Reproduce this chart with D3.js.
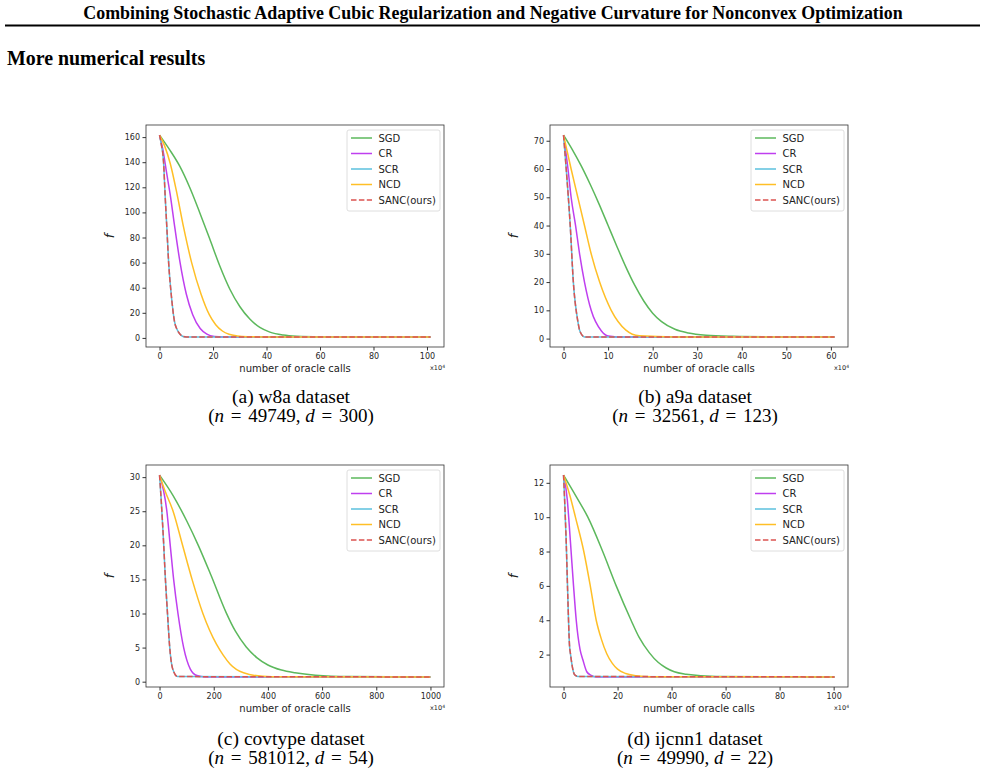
<!DOCTYPE html>
<html lang="en">
<head>
<meta charset="UTF-8"/>
<title>More numerical results</title>
<script src="https://d3js.org/d3.v7.min.js"></script>
<style>
	body { margin: 0; background: #fff; }
	svg { display: block; }
	.tick text { font-family: "DejaVu Sans", sans-serif; font-size: 8px; fill: #262626; }
	.tick line { stroke: #333; }
	.serif { font-family: "Liberation Serif", "Times New Roman", serif; fill: #000; }
	.sans { font-family: "DejaVu Sans", sans-serif; fill: #222; }
</style>
</head>
<body>
<script>
	var w = 985;	// width of the page
	var h = 774;	// height of the page

	var seriesNames  = ["SGD", "CR", "SCR", "NCD", "SANC(ours)"];
	var seriesColors = ["#5cb85c", "#bf3fef", "#5bc0de", "#ffbf26", "#db5350"];

	// (a) w8a dataset, x in units of 10^4 oracle calls
	var w8aSGD  = [[0,161.6],[3.75,150],[7.5,137],[11.25,120],[15,100],[18.75,79],[22.5,57.5],[26.25,39],[30,25],[33.75,15],[37.5,8.3],[41.25,4.6],[46.25,2.3],[51.25,1.4],[60,0.95],[75,0.82],[101.3,0.8]];
	var w8aCR   = [[0,161.6],[1.25,150],[2.6,132],[4,114],[5.7,88],[7.6,61],[10,35],[12.4,18.5],[15.2,7.5],[17.7,3],[20.5,1.2],[24,0.8],[101.3,0.8]];
	var w8aNCD  = [[0,161.6],[1.9,153],[4,139],[6.6,114],[9,88],[12,60],[15.5,35],[18.6,18.5],[21,10.5],[23.5,5.5],[26,2.9],[29,1.6],[33,1.0],[40,0.82],[101.3,0.8]];
	var w8aSANC = [[0,161.6],[0.6,155],[1.5,140],[2.1,113],[2.75,87],[3.4,60],[4.4,34],[5.6,13],[6.6,6.5],[7.6,3.2],[8.75,1.2],[10,0.8],[101.3,0.8]];

	// (b) a9a dataset
	var a9aSGD  = [[0,72],[2,66.8],[4,61],[6,54.5],[8,47.5],[10,40],[12,32.5],[14,25.3],[16,18.8],[18,13.3],[20,9],[22,6],[25,3.3],[28,2],[32,1.2],[38,0.8],[45,0.65],[60.8,0.6]];
	var a9aCR   = [[0,72],[1,60],[1.7,50],[2.7,40],[3.6,30],[4.7,20],[6.2,10],[8.5,2.7],[10,0.9],[12,0.6],[60.8,0.6]];
	var a9aNCD  = [[0,72],[1.7,60],[3.2,50],[4.7,40],[6.2,30],[8.1,20],[10.7,10],[14,3],[17,1],[25,0.6],[60.8,0.6]];
	var a9aSANC = [[0,72],[0.6,60],[1.5,40],[2.2,20],[3.2,6.2],[3.7,2.5],[4.7,0.6],[60.8,0.6]];

	// (c) covtype dataset
	var covSGD  = [[0,30.3],[50,27.3],[100,23.6],[143,20],[190,15.6],[245,10.2],[280,7.4],[320,5.1],[360,3.5],[400,2.45],[450,1.7],[500,1.3],[575,0.95],[700,0.75],[1000,0.7]];
	var covCR   = [[0,30.3],[27,25],[39.5,20],[52,15],[68,10],[89,5],[113.6,1.85],[138,0.9],[169,0.7],[1000,0.7]];
	var covNCD  = [[0,30.3],[20,28],[50,25],[85,20],[120,15],[160,10],[210,5.5],[235,3.9],[260,2.6],[310,1.3],[380,0.8],[450,0.72],[1000,0.7]];
	var covSANC = [[0,30.3],[6,26.7],[15,20.4],[21,15.5],[30,9.6],[37,5.3],[48,1.95],[66.5,0.75],[1000,0.7]];

	// (d) ijcnn1 dataset
	var ijcSGD  = [[0,12.45],[4.7,11.2],[9,10],[14.5,8],[19.5,6],[25,4],[28,3],[31.8,2.1],[35,1.55],[38,1.22],[41,1.0],[45.4,0.86],[56.5,0.73],[100.3,0.7]];
	var ijcCR   = [[0,12.45],[1.4,11],[1.9,10],[2.8,8],[3.7,6],[4.7,4],[6.1,2.3],[7.15,1.7],[8.6,1.0],[10.2,0.79],[12,0.7],[100.3,0.7]];
	var ijcNCD  = [[0,12.45],[2.8,11],[4.4,10],[7.5,8],[9.9,6],[12.1,4],[14,2.9],[16,2.05],[18,1.5],[20,1.15],[23,0.9],[27,0.77],[32,0.71],[100.3,0.7]];
	var ijcSANC = [[0,12.45],[0.4,11],[1,8.5],[1.6,5.25],[2.2,2.55],[2.6,2],[4.1,0.83],[5.3,0.73],[100.3,0.7]];

	// tick values
	var w8aXTicks = [0,20,40,60,80,100],      w8aYTicks = [0,20,40,60,80,100,120,140,160];
	var a9aXTicks = [0,10,20,30,40,50,60],    a9aYTicks = [0,10,20,30,40,50,60,70];
	var covXTicks = [0,200,400,600,800,1000], covYTicks = [0,5,10,15,20,25,30];
	var ijcXTicks = [0,20,40,60,80,100],      ijcYTicks = [2,4,6,8,10,12];

	var captions = ["(a) w8a dataset", "(b) a9a dataset", "(c) covtype dataset", "(d) ijcnn1 dataset"];
	var sizes = [["49749","300"], ["32561","123"], ["581012","54"], ["49990","22"]];

	// panel layout: plot frame for each chart
	var panels = [
		{ left: 146, top: 125, series: [w8aSGD, w8aCR, w8aSANC, w8aNCD, w8aSANC], xt: w8aXTicks, yt: w8aYTicks, cx: 291, cy: 398 },
		{ left: 550, top: 125, series: [a9aSGD, a9aCR, a9aSANC, a9aNCD, a9aSANC], xt: a9aXTicks, yt: a9aYTicks, cx: 695, cy: 398 },
		{ left: 146, top: 465, series: [covSGD, covCR, covSANC, covNCD, covSANC], xt: covXTicks, yt: covYTicks, cx: 291, cy: 740 },
		{ left: 550, top: 465, series: [ijcSGD, ijcCR, ijcSANC, ijcNCD, ijcSANC], xt: ijcXTicks, yt: ijcYTicks, cx: 695, cy: 740 }
	];
	var pw = 298;	// plot frame width
	var ph = 222;	// plot frame height

	var svg = d3.select("body")
				.append("svg")
				.attr("width", w)
				.attr("height", h);

	svg.append("rect").attr("width", w).attr("height", h).attr("fill", "#fff");

	// page header
	svg.append("text")
		.attr("class", "serif")
		.attr("x", 493)
		.attr("y", 19)
		.attr("text-anchor", "middle")
		.attr("font-weight", "bold")
		.attr("font-size", "17.9px")
		.text("Combining Stochastic Adaptive Cubic Regularization and Negative Curvature for Nonconvex Optimization");

	svg.append("line")
		.attr("x1", 5).attr("x2", 980)
		.attr("y1", 25.5).attr("y2", 25.5)
		.attr("stroke", "#000")
		.attr("stroke-width", 2);

	svg.append("text")
		.attr("class", "serif")
		.attr("x", 7)
		.attr("y", 65)
		.attr("font-weight", "bold")
		.attr("font-size", "19.9px")
		.text("More numerical results");

	// extent with matplotlib style 5% margins
	function padded(vals) {
		var lo = d3.min(vals), hi = d3.max(vals);
		var m = (hi - lo) * 0.05;
		return [lo - m, hi + m];
	}

	panels.forEach(function(p, k) {
		var all = d3.merge(p.series);
		var xScale = d3.scaleLinear()
					.domain(padded(all.map(function(d) { return d[0]; })))
					.range([p.left, p.left + pw]);
		var yScale = d3.scaleLinear()
					.domain(padded(all.map(function(d) { return d[1]; })))
					.range([p.top + ph, p.top]);

		var g = svg.append("g");

		var line = d3.line()
					.x(function(d) { return xScale(d[0]); })
					.y(function(d) { return yScale(d[1]); })
					.curve(d3.curveMonotoneX);

		p.series.forEach(function(s, i) {
			g.append("path")
				.datum(s)
				.attr("d", line)
				.attr("fill", "none")
				.attr("stroke", seriesColors[i])
				.attr("stroke-width", 1.5)
				.attr("stroke-dasharray", i === 4 ? "5.5,2.4" : null);
		});

		// axes
		var xAxis = d3.axisBottom(xScale).tickValues(p.xt).tickFormat(d3.format("d"))
					.tickSize(3.5).tickPadding(2.5).tickSizeOuter(0);
		var yAxis = d3.axisLeft(yScale).tickValues(p.yt).tickFormat(d3.format("d"))
					.tickSize(3.5).tickPadding(2.5).tickSizeOuter(0);

		g.append("g")
			.attr("transform", "translate(0," + (p.top + ph) + ")")
			.call(xAxis)
			.call(function(a) { a.select(".domain").remove(); });
		g.append("g")
			.attr("transform", "translate(" + p.left + ",0)")
			.call(yAxis)
			.call(function(a) { a.select(".domain").remove(); });

		// frame
		g.append("rect")
			.attr("x", p.left).attr("y", p.top)
			.attr("width", pw).attr("height", ph)
			.attr("fill", "none")
			.attr("stroke", "#333")
			.attr("stroke-width", 0.8);

		// axis labels
		g.append("text")
			.attr("class", "sans")
			.attr("x", p.left + pw / 2)
			.attr("y", p.top + ph + 25)
			.attr("text-anchor", "middle")
			.attr("font-size", "10px")
			.text("number of oracle calls");

		var mult = g.append("text")
			.attr("class", "sans")
			.attr("x", p.left + pw + 1)
			.attr("y", p.top + ph + 23)
			.attr("text-anchor", "end")
			.attr("font-size", "6.5px");
		mult.append("tspan").text("x10");
		mult.append("tspan").attr("dy", -2.5).attr("font-size", "4.5px").text("4");

		g.append("text")
			.attr("class", "sans")
			.attr("transform", "translate(" + (p.left - 32) + "," + (p.top + ph / 2) + ") rotate(-90)")
			.attr("text-anchor", "middle")
			.attr("font-style", "italic")
			.attr("font-size", "13px")
			.text("f");

		// legend
		var lx = p.left + pw - 97, ly = p.top + 5;
		g.append("rect")
			.attr("x", lx).attr("y", ly)
			.attr("width", 93).attr("height", 81)
			.attr("rx", 2)
			.attr("fill", "#fff")
			.attr("fill-opacity", 0.8)
			.attr("stroke", "#d6d6d6")
			.attr("stroke-width", 0.8);

		seriesNames.forEach(function(name, i) {
			var yy = ly + 8 + i * 15.5;
			g.append("line")
				.attr("x1", lx + 4).attr("x2", lx + 25)
				.attr("y1", yy).attr("y2", yy)
				.attr("stroke", seriesColors[i])
				.attr("stroke-width", 1.5)
				.attr("stroke-dasharray", i === 4 ? "5.5,2.4" : null);
			g.append("text")
				.attr("class", "sans")
				.attr("x", lx + 31.5)
				.attr("y", yy + 3.6)
				.attr("font-size", "10px")
				.text(name);
		});

		// caption
		svg.append("text")
			.attr("class", "serif")
			.attr("x", p.cx)
			.attr("y", p.cy + 5)
			.attr("text-anchor", "middle")
			.attr("font-size", "19.5px")
			.text(captions[k]);

		var c2 = svg.append("text")
			.attr("class", "serif")
			.attr("x", p.cx)
			.attr("y", p.cy + 24)
			.attr("text-anchor", "middle")
			.attr("font-size", "19px");
		c2.append("tspan").text("(");
		c2.append("tspan").attr("font-style", "italic").text("n");
		c2.append("tspan").attr("dx", 2).text(" = ");
		c2.append("tspan").attr("dx", 2).text(sizes[k][0] + ", ");
		c2.append("tspan").attr("font-style", "italic").text("d");
		c2.append("tspan").attr("dx", 2).text(" = ");
		c2.append("tspan").attr("dx", 2).text(sizes[k][1] + ")");
	});
</script>
</body>
</html>
